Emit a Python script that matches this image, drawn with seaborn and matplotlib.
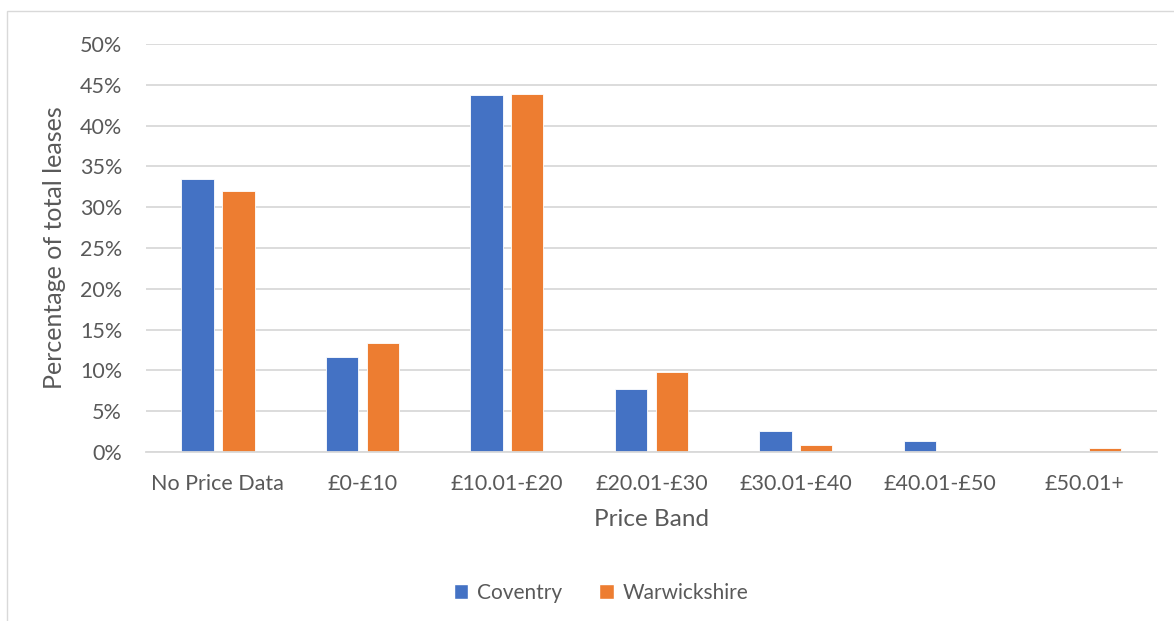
import matplotlib
matplotlib.use("Agg")
import matplotlib.pyplot as plt
import seaborn as sns
import pandas as pd
from matplotlib.patches import Rectangle
from matplotlib.ticker import FuncFormatter, MultipleLocator

# Share of total leases (%) per price band
price_bands = ["No Price Data", "£0-£10", "£10.01-£20", "£20.01-£30",
               "£30.01-£40", "£40.01-£50", "£50.01+"]
coventry = [33.4, 11.6, 43.7, 7.7, 2.6, 1.3, 0.0]
warwickshire = [32.0, 13.4, 43.9, 9.8, 0.9, 0.0, 0.45]
areas = ["Coventry", "Warwickshire"]
palette = {"Coventry": "#4472C4", "Warwickshire": "#ED7D31"}

df = pd.DataFrame({
    "band": price_bands * 2,
    "area": [areas[0]] * len(price_bands) + [areas[1]] * len(price_bands),
    "pct": coventry + warwickshire,
})

sns.set_theme(style="white")
plt.rcParams["font.family"] = ["Lato", "DejaVu Sans"]
text_col = "#595959"
grid_col = "#d9d9d9"

W, H = 1174, 621
fig = plt.figure(figsize=(W / 100, H / 100), dpi=100)
fig.patch.set_facecolor("white")

# light chart-area border
fig.add_artist(Rectangle((7 / W, -0.05), 1.2, (H - 11) / H + 0.05,
                         transform=fig.transFigure, fill=False,
                         edgecolor="#d9d9d9", linewidth=1.0))

ax = fig.add_axes([145.7 / W, (H - 452) / H, 1011.3 / W, 408 / H])
sns.barplot(data=df, x="band", y="pct", hue="area", order=price_bands,
            hue_order=areas, palette=palette, width=0.566, gap=0.21,
            edgecolor="white", linewidth=0.6, saturation=1, ax=ax,
            legend=False)

ax.set_ylim(0, 50)
ax.set_xlim(-0.5, len(price_bands) - 0.5)
ax.yaxis.set_major_locator(MultipleLocator(5))
ax.yaxis.set_major_formatter(FuncFormatter(lambda v, _: f"{v:.0f}%"))
ax.grid(axis="y", color=grid_col, linewidth=1.3)
ax.set_axisbelow(True)
for side in ["top", "right", "left"]:
    ax.spines[side].set_visible(False)
ax.spines["bottom"].set_color(grid_col)
ax.spines["bottom"].set_linewidth(1.3)
ax.tick_params(axis="both", length=0, colors=text_col, labelsize=15.5)
ax.tick_params(axis="y", pad=17)
ax.tick_params(axis="x", pad=16)

ax.set_xlabel("Price Band", fontsize=17.5, color=text_col, labelpad=11)
ax.set_ylabel("Percentage of total leases", fontsize=18, color=text_col,
              labelpad=10)

handles = [Rectangle((0, 0), 1, 1, facecolor=palette[a]) for a in areas]
leg = fig.legend(handles, areas, loc="center", ncol=2,
                 bbox_to_anchor=(601 / W, 1 - 593 / H), frameon=False,
                 fontsize=15, handlelength=0.7, handleheight=0.7,
                 handletextpad=0.4, columnspacing=1.8)
for t in leg.get_texts():
    t.set_color(text_col)

fig.savefig("out.png", dpi=100)
